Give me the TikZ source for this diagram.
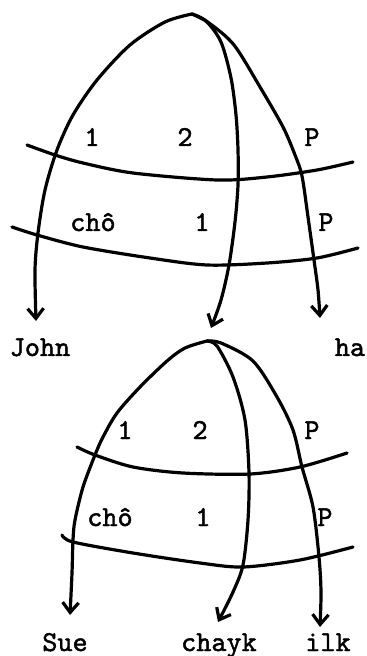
\documentclass[tikz,border=0pt]{standalone}
\usepackage{fontspec}
\newfontfamily\typew{lmmono10-regular.otf}[FakeBold=1.6]
\usetikzlibrary{arrows.meta}
\begin{document}
\begin{tikzpicture}[>={Straight Barb[length=5pt,width=8pt]}, x=0.5pt, y=-0.5pt,
    line width=1.6pt, line cap=round, line join=round,
    word/.style={font=\fontsize{14.4}{16}\selectfont\typew, inner sep=0pt, anchor=base}]
  \useasboundingbox (0,0) rectangle (366,656);
  % upper tree
  \coordinate (apexA) at (192,14);
  \node[word] (john) at (40,356) {John};
  \node[word] (ha) at (350,356) {ha};
  \coordinate (johnEnd) at (36,321);
  \coordinate (haEnd) at (320,318);
  \coordinate (apexB) at (207,341);
  \draw[->] plot[smooth] coordinates {(apexA) (165,22) (130,45) (97,80) (73,115) (57,150)
      (45,190) (38,233) (35,270) (johnEnd)};
  \draw[->] plot[smooth] coordinates {(apexA) (206,21) (221,42) (231,78) (236,115) (238,150)
      (238,185) (235,222) (229,265) (221,300) (211,328)};
  \draw[->] plot[smooth] coordinates {(apexA) (209,23) (234,45) (260,87) (283,127) (295,155)
      (302,176) (308,217) (314,260) (318,290) (haEnd)};
  \draw plot[smooth] coordinates {(27,145) (55,155) (83,163) (133,173) (217,180) (267,177)
      (317,170) (353,162)};
  \draw plot[smooth] coordinates {(12,227) (37,235) (83,247) (150,258) (207,265) (267,263)
      (317,258) (358,248)};
  \node[word] (a1) at (92,146) {1};
  \node[word] (a2) at (185,146) {2};
  \node[word] (aP) at (312,146) {P};
  \node[word] (aCho) at (93,231) {chô};
  \node[word] (a1b) at (202,231) {1};
  \node[word] (aPb) at (326,231) {P};
  % lower tree
  \node[word] (sue) at (65,651) {Sue};
  \node[word] (chayk) at (219,651) {chayk};
  \node[word] (ilk) at (328,651) {ilk};
  \coordinate (sueEnd) at (70,615);
  \coordinate (chaykEnd) at (218,622);
  \coordinate (ilkEnd) at (320,627);
  \draw[->] plot[smooth] coordinates {(apexB) (185,348) (167,361) (140,387) (117,413) (103,437)
      (95,455) (83,487) (75,520) (73,540) (72,573) (sueEnd)};
  \draw[->] plot[smooth] coordinates {(apexB) (217,346) (233,377) (245,420) (249,473) (248,520)
      (243,565) (233,592) (chaykEnd)};
  \draw[->] plot[smooth] coordinates {(apexB) (221,343) (253,361) (277,397) (293,430) (302,467)
      (313,507) (319,557) (321,592) (ilkEnd)};
  \draw plot[smooth] coordinates {(77,447) (95,455) (133,467) (183,473) (250,474) (300,467)
      (347,453)};
  \draw plot[smooth] coordinates {(62,535) (73,542) (133,553) (200,563) (243,567) (300,560)
      (353,547)};
  \node[word] (b1) at (125,439) {1};
  \node[word] (b2) at (200,439) {2};
  \node[word] (bP) at (312,439) {P};
  \node[word] (bCho) at (110,526) {chô};
  \node[word] (b1b) at (203,526) {1};
  \node[word] (bPb) at (325,526) {P};
\end{tikzpicture}
\end{document}
